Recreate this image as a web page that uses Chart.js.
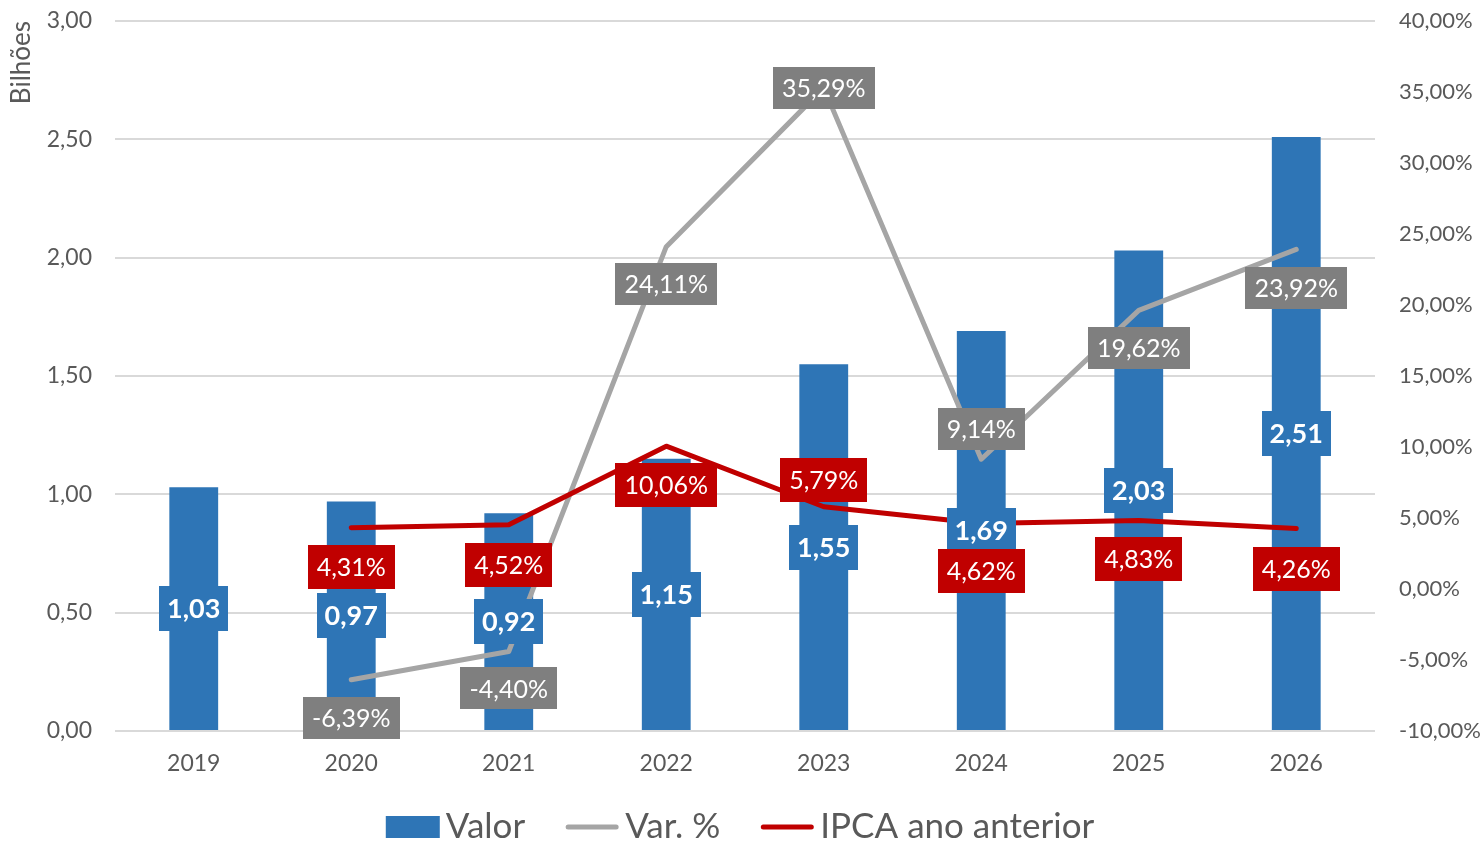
<!DOCTYPE html>
<html>
<head>
<meta charset="utf-8">
<script src="https://cdn.jsdelivr.net/npm/chart.js@4/dist/chart.umd.min.js"></script>
<style>
  html, body { margin: 0; padding: 0; background: #ffffff; }
  #wrap { width: 1484px; height: 842px; }
</style>
</head>
<body>
<div id="wrap"><canvas id="c" width="1484" height="842"></canvas></div>
<script>
// ---- Data ----
const categories = ['2019', '2020', '2021', '2022', '2023', '2024', '2025', '2026'];
const valorBilhoes = [1.03, 0.97, 0.92, 1.15, 1.55, 1.69, 2.03, 2.51];
const varPercent = [null, -6.39, -4.40, 24.11, 35.29, 9.14, 19.62, 23.92];
const ipcaAnoAnterior = [null, 4.31, 4.52, 10.06, 5.79, 4.62, 4.83, 4.26];
const leftTicks = [0, 0.5, 1, 1.5, 2, 2.5, 3];
const rightTicks = [-10, -5, 0, 5, 10, 15, 20, 25, 30, 35, 40];

// ---- Styles (label offsets in px relative to the point) ----
const varLabelOffsets = [0, 38, 37, 37, 0, -30, 38, 39];
const ipcaLabelOffsets = [0, 39, 40, 39, -27, 48, 39, 40];

const FONT = 'Lato, "Open Sans", "Liberation Sans", sans-serif';
const TXT = '#595959';

function fmtNum(v) { return v.toFixed(2).replace('.', ','); }
function fmtPct(v) { return v.toFixed(2).replace('.', ',') + '%'; }

const boxLabelPlugin = {
  id: 'boxLabels',
  afterDatasetsDraw(chart) {
    const ctx = chart.ctx;
    chart.data.datasets.forEach((ds, i) => {
      const cfg = ds.boxLabel;
      if (!cfg) return;
      const meta = chart.getDatasetMeta(i);
      meta.data.forEach((el, j) => {
        const v = ds.data[j];
        if (v === null || v === undefined) return;
        const text = cfg.format(v);
        const x = el.x;
        const y = meta.type === 'bar' ? (el.y + el.base) / 2 : el.y + cfg.offsets[j];
        ctx.save();
        ctx.font = cfg.font;
        const w = ctx.measureText(text).width + cfg.padX * 2;
        const h = cfg.height;
        ctx.fillStyle = cfg.bg;
        ctx.fillRect(Math.round(x - w / 2), Math.round(y - h / 2), Math.round(w), h);
        ctx.fillStyle = '#ffffff';
        ctx.textAlign = 'center';
        ctx.textBaseline = 'middle';
        ctx.fillText(text, x, y + 1);
        ctx.restore();
      });
    });
  }
};

// Legend drawn from the datasets (symbol + label), centred under the chart
const legendPlugin = {
  id: 'bottomLegend',
  afterDraw(chart) {
    const ctx = chart.ctx;
    const o = chart.options.plugins.bottomLegend;
    ctx.save();
    ctx.font = o.fontSize + 'px ' + FONT;
    const items = chart.data.datasets.map(ds => ({
      ds, tw: ctx.measureText(ds.label).width
    }));
    const total = items.reduce((s, it) => s + o.symW + o.gap + it.tw, 0) + o.itemGap * (items.length - 1);
    let x = o.centerX - total / 2;
    const y = o.y;
    items.forEach(it => {
      const ds = it.ds;
      if (ds.type === 'bar') {
        ctx.fillStyle = ds.backgroundColor;
        ctx.fillRect(x, y - o.rectH / 2, o.symW, o.rectH);
      } else {
        ctx.strokeStyle = ds.borderColor;
        ctx.lineWidth = ds.borderWidth;
        ctx.lineCap = 'round';
        ctx.beginPath();
        ctx.moveTo(x + 3, y);
        ctx.lineTo(x + o.symW - 3, y);
        ctx.stroke();
      }
      x += o.symW + o.gap;
      ctx.fillStyle = TXT;
      ctx.textAlign = 'left';
      ctx.textBaseline = 'middle';
      ctx.fillText(ds.label, x, y);
      x += it.tw + o.itemGap;
    });
    ctx.restore();
  }
};

new Chart(document.getElementById('c'), {
  type: 'bar',
  data: {
    labels: categories,
    datasets: [
      {
        label: 'Valor',
        type: 'bar',
        data: valorBilhoes,
        yAxisID: 'y',
        backgroundColor: '#2E75B6',
        borderWidth: 0,
        barPercentage: 0.31,
        categoryPercentage: 1.0,
        order: 3,
        boxLabel: { format: fmtNum, bg: '#2E75B6', font: 'bold 27px ' + FONT, padX: 8, height: 45 }
      },
      {
        label: 'Var. %',
        type: 'line',
        data: varPercent,
        yAxisID: 'y1',
        borderColor: '#A5A5A5',
        backgroundColor: '#A5A5A5',
        borderWidth: 5,
        borderCapStyle: 'round',
        borderJoinStyle: 'round',
        pointRadius: 0,
        pointHoverRadius: 0,
        tension: 0,
        order: 2,
        boxLabel: { format: fmtPct, bg: '#7F7F7F', font: '25px ' + FONT, padX: 9, height: 42, offsets: varLabelOffsets }
      },
      {
        label: 'IPCA ano anterior',
        type: 'line',
        data: ipcaAnoAnterior,
        yAxisID: 'y1',
        borderColor: '#C00000',
        backgroundColor: '#C00000',
        borderWidth: 5,
        borderCapStyle: 'round',
        borderJoinStyle: 'round',
        pointRadius: 0,
        pointHoverRadius: 0,
        tension: 0,
        order: 1,
        boxLabel: { format: fmtPct, bg: '#C00000', font: '25px ' + FONT, padX: 9, height: 44, offsets: ipcaLabelOffsets }
      }
    ]
  },
  options: {
    responsive: false,
    animation: false,
    layout: { padding: { top: 21, bottom: 61, left: 0, right: 0 } },
    plugins: {
      tooltip: { enabled: false },
      legend: { display: false },
      bottomLegend: { centerX: 740, y: 827, fontSize: 35, symW: 54, rectH: 22, gap: 6, itemGap: 40 }
    },
    scales: {
      x: {
        afterFit(scale) { scale.height = 50; },
        grid: { display: false, drawTicks: false },
        border: { display: false },
        ticks: { color: TXT, font: { family: FONT, size: 23 }, padding: 19 }
      },
      y: {
        position: 'left',
        min: 0,
        max: 3,
        afterFit(scale) { scale.width = 115; scale.paddingTop = 0; scale.paddingBottom = 0; },
        afterBuildTicks(scale) { scale.ticks = leftTicks.map(v => ({ value: v })); },
        grid: { color: '#D9D9D9', lineWidth: 2, drawTicks: false },
        border: { display: false },
        ticks: { color: TXT, font: { family: FONT, size: 23 }, padding: 23, callback: v => fmtNum(v) },
        title: { display: true, text: 'Bilhões', align: 'end', color: TXT, font: { family: FONT, size: 26 }, padding: { top: 6, bottom: 0 } }
      },
      y1: {
        position: 'right',
        min: -10,
        max: 40,
        afterFit(scale) { scale.width = 109; scale.paddingTop = 0; scale.paddingBottom = 0; },
        afterBuildTicks(scale) { scale.ticks = rightTicks.map(v => ({ value: v })); },
        grid: { display: false, drawTicks: false },
        border: { display: false },
        ticks: { color: TXT, font: { family: FONT, size: 22 }, padding: 24, callback: v => fmtPct(v) }
      }
    }
  },
  plugins: [boxLabelPlugin, legendPlugin]
});
</script>
</body>
</html>
